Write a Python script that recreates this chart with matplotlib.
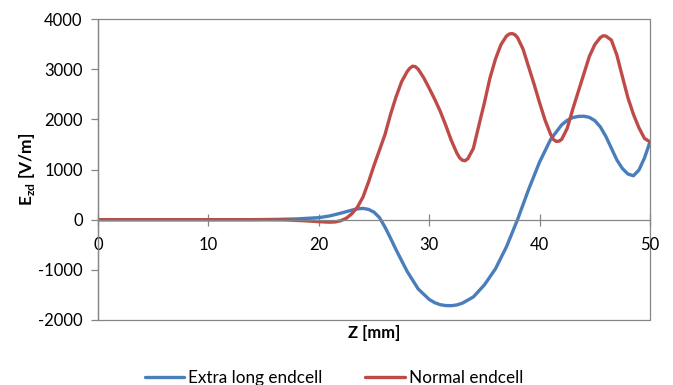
import matplotlib
matplotlib.use("Agg")
import matplotlib.pyplot as plt
from matplotlib.patches import Rectangle

plt.rcParams['font.family'] = ['Lato', 'DejaVu Sans']
plt.rcParams['mathtext.fontset'] = 'custom'
plt.rcParams['mathtext.rm'] = 'Lato'
plt.rcParams['mathtext.bf'] = 'Lato:bold'
plt.rcParams['axes.unicode_minus'] = False

# Data
z_extra = [0, 5, 10, 14, 16, 18, 20, 21, 22, 23, 23.5, 24, 24.5, 25, 25.5, 26, 26.5, 27, 28, 29, 30,
           30.5, 31, 31.5, 32, 32.5, 33, 34, 35, 36, 37, 38, 39, 40, 41, 42, 42.5, 43, 43.5, 44, 44.5,
           45, 45.5, 46, 47, 47.5, 48, 48.5, 49, 49.5, 50]
e_extra = [0, 0, 0, 0, 5, 15, 40, 75, 130, 190, 215, 225, 205, 150, 40, -150, -370, -600, -1030, -1380,
           -1590, -1655, -1695, -1712, -1715, -1700, -1665, -1540, -1300, -980, -540, 0, 600, 1150,
           1600, 1890, 1980, 2035, 2058, 2062, 2040, 1975, 1850, 1660, 1190, 1020, 910, 875, 990, 1230,
           1550]

z_normal = [0, 10, 15, 17, 18, 19, 20, 21, 21.5, 22, 22.5, 23, 23.5, 24, 24.5, 25, 25.5, 26, 26.5, 27,
            27.5, 28, 28.25, 28.5, 28.75, 29, 29.5, 30, 30.5, 31, 31.5, 32, 32.5, 32.75, 33, 33.25,
            33.5, 34, 34.5, 35, 35.5, 36, 36.5, 37, 37.25, 37.5, 37.75, 38, 38.5, 39, 39.5, 40, 40.5,
            41, 41.25, 41.5, 41.75, 42, 42.5, 43, 43.5, 44, 44.5, 45, 45.5, 45.75, 46, 46.5, 47, 47.5,
            48, 48.5, 49, 49.5, 50]
e_normal = [0, 0, 0, -5, -15, -25, -40, -50, -45, -20, 30, 120, 250, 450, 750, 1080, 1390, 1700, 2100,
            2450, 2750, 2950, 3020, 3060, 3050, 3000, 2830, 2620, 2400, 2160, 1880, 1580, 1330, 1235,
            1185, 1175, 1215, 1420, 1880, 2330, 2820, 3200, 3490, 3660, 3700, 3710, 3690, 3630, 3400,
            3050, 2700, 2330, 1980, 1700, 1600, 1560, 1565, 1600, 1820, 2200, 2550, 2900, 3250, 3490,
            3630, 3665, 3660, 3580, 3280, 2850, 2430, 2100, 1830, 1620, 1550]

series_names = ["Extra long endcell", "Normal endcell"]
x_ticks = [0, 10, 20, 30, 40, 50]
y_ticks = [-2000, -1000, 0, 1000, 2000, 3000, 4000]

gray = '#868686'
blue = '#4A7EBB'
red = '#BE4B48'

fig = plt.figure(figsize=(6.73, 3.85), dpi=100)
ax = fig.add_axes([98/673, 1 - 320/385, (650 - 98)/673, (320 - 19)/385])

ax.plot(z_extra, e_extra, color=blue, lw=2.4, label=series_names[0],
        solid_capstyle='round', solid_joinstyle='round')
ax.plot(z_normal, e_normal, color=red, lw=2.4, label=series_names[1],
        solid_capstyle='round', solid_joinstyle='round')

ax.set_xlim(0, 50)
ax.set_ylim(-2000, 4000)
ax.set_xticks(x_ticks)
ax.set_yticks(y_ticks)

for s in ['top', 'right']:
    ax.spines[s].set_visible(False)
ax.spines['bottom'].set_position(('data', 0))
ax.spines['bottom'].set_color(gray)
ax.spines['left'].set_color(gray)
ax.spines['bottom'].set_linewidth(0.9)
ax.spines['left'].set_linewidth(0.9)
ax.add_patch(Rectangle((0, 0), 1, 1, transform=ax.transAxes, fill=False,
                       edgecolor=gray, lw=0.9, clip_on=False, zorder=0))

ax.tick_params(axis='x', direction='inout', length=9, width=0.9, color=gray,
               labelsize=12, pad=8, labelcolor='black')
ax.tick_params(axis='y', direction='out', length=5, width=0.9, color=gray,
               labelsize=12, pad=6, labelcolor='black')

ax.set_ylabel(r'$\mathbf{E}_{\mathbf{zd}}$ [V/m]', fontsize=12.5, fontweight='bold', labelpad=1)
fig.text(374/673, 1 - 333/385, 'Z [mm]', ha='center', va='center', fontsize=12, fontweight='bold')

fig.legend(loc='center', bbox_to_anchor=(334/673, 1 - 378/385), ncol=2, frameon=False,
           fontsize=12.3, handlelength=2.3, columnspacing=2.5, handletextpad=0.25)

fig.savefig('out.png', dpi=100)
